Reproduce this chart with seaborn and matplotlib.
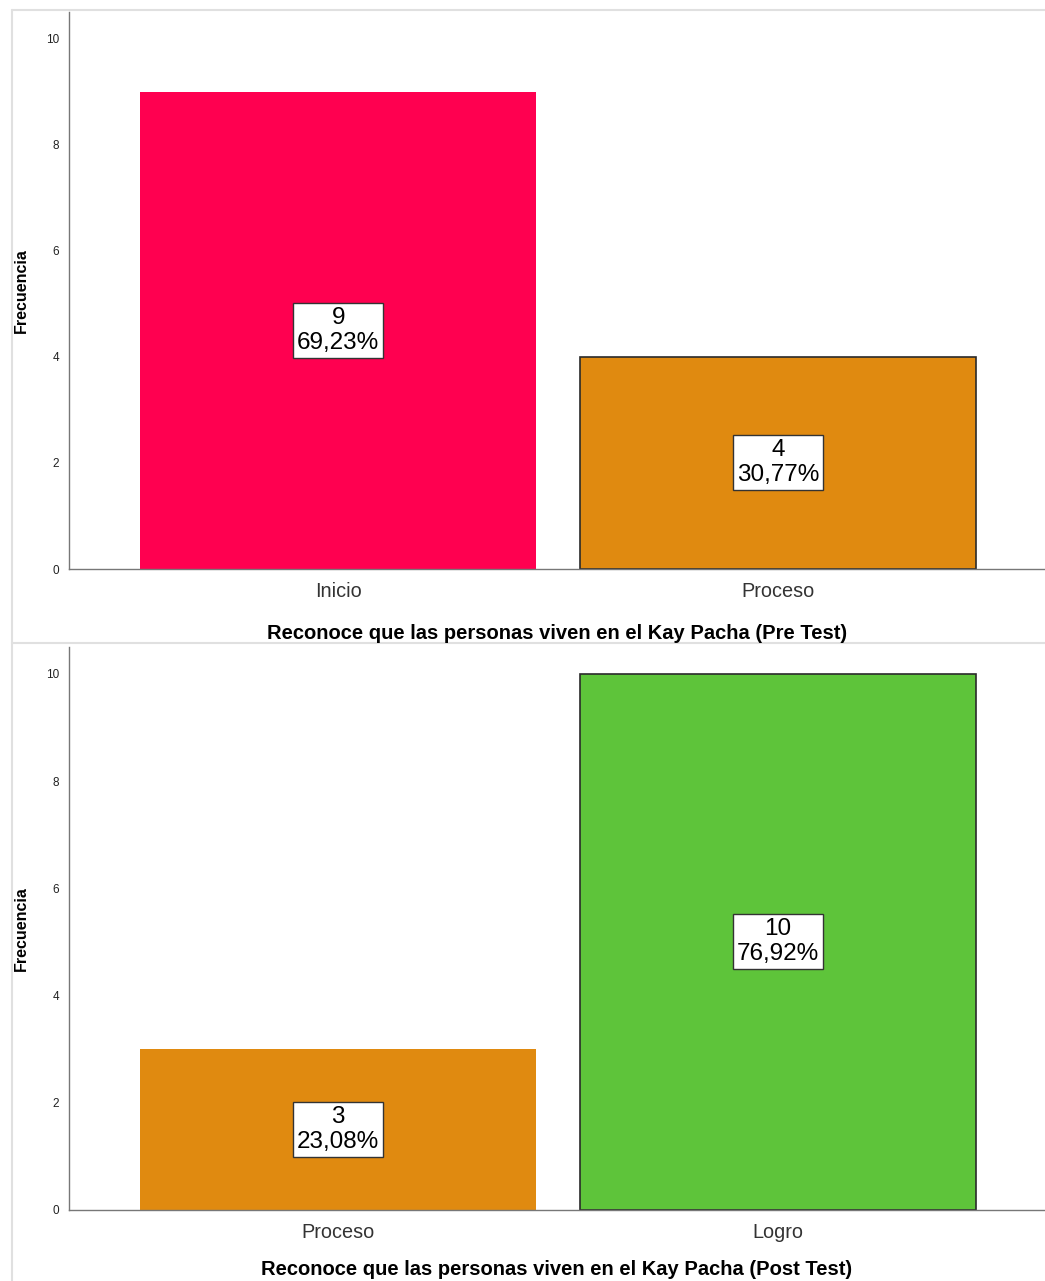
import matplotlib
matplotlib.use("Agg")
import matplotlib.pyplot as plt
from matplotlib.lines import Line2D
import seaborn as sns
import pandas as pd

# Data
pre_categories = ["Inicio", "Proceso"]
pre_counts = [9, 4]
pre_percents = ["69,23%", "30,77%"]
pre_title = "Reconoce que las personas viven en el Kay Pacha (Pre Test)"

post_categories = ["Proceso", "Logro"]
post_counts = [3, 10]
post_percents = ["23,08%", "76,92%"]
post_title = "Reconoce que las personas viven en el Kay Pacha (Post Test)"

yticks = [0, 2, 4, 6, 8, 10]
ylabel = "Frecuencia"

colors = {"Inicio": "#FF0050", "Proceso": "#E08A10", "Logro": "#5EC43A"}

sns.set_theme(style="white")
plt.rcParams["font.family"] = ["Liberation Sans", "DejaVu Sans"]

W, H = 1045, 1281
fig = plt.figure(figsize=(W / 100, H / 100), dpi=100)


def px_axes(left, top, right, bottom):
    return fig.add_axes([left / W, 1 - bottom / H, (right - left) / W, (bottom - top) / H])


def draw(ax, cats, counts, pcts, title, edges, title_pad):
    df = pd.DataFrame({"cat": cats, "n": counts})
    sns.barplot(data=df, x="cat", y="n", hue="cat", palette=[colors[c] for c in cats],
                width=0.9, legend=False, ax=ax, saturation=1)
    for patch, e in zip(ax.patches, edges):
        if e:
            patch.set_edgecolor("#2a2a2a")
            patch.set_linewidth(1.2)
        else:
            patch.set_edgecolor("none")
    for i, (n, p) in enumerate(zip(counts, pcts)):
        ax.text(i, n / 2, f"{n}\n{p}", ha="center", va="center", fontsize=17.5,
                linespacing=1.18, color="black",
                bbox=dict(boxstyle="square,pad=0.16", fc="white", ec="#333333", lw=1))
    ax.set_xlim(-0.612, 1.607)
    ax.set_ylim(0, 10.5)
    ax.set_yticks(yticks)
    ax.tick_params(axis="y", labelsize=8.5, length=0, pad=7, labelcolor="#222222")
    ax.tick_params(axis="x", labelsize=14.3, length=0, pad=9, labelcolor="#333333")
    ax.set_xlabel(title, fontsize=14.5, fontweight="bold", labelpad=title_pad, color="black")
    ax.set_ylabel(ylabel, fontsize=11.5, fontweight="bold", color="black")
    ax.yaxis.set_label_coords(-0.041, 0.5)
    for s in ["top", "right"]:
        ax.spines[s].set_visible(False)
    for s in ["left", "bottom"]:
        ax.spines[s].set_color("#777777")
        ax.spines[s].set_linewidth(1.0)


ax1 = px_axes(69, 12, 1045, 569)
draw(ax1, pre_categories, pre_counts, pre_percents, pre_title, [False, True], 17)

ax2 = px_axes(69, 647, 1045, 1210)
draw(ax2, post_categories, post_counts, post_percents, post_title, [False, True], 13)

# light frame lines
frame_c = "#E0E0E0"
fig.add_artist(Line2D([12 / W, 12 / W], [0, 1 - 10 / H], transform=fig.transFigure, color=frame_c, lw=1.5, zorder=0))
fig.add_artist(Line2D([12 / W, 1], [1 - 10 / H, 1 - 10 / H], transform=fig.transFigure, color=frame_c, lw=1.5, zorder=0))
fig.add_artist(Line2D([12 / W, 1], [1 - 643 / H, 1 - 643 / H], transform=fig.transFigure, color=frame_c, lw=1.5, zorder=0))

fig.savefig("out.png", dpi=100)
